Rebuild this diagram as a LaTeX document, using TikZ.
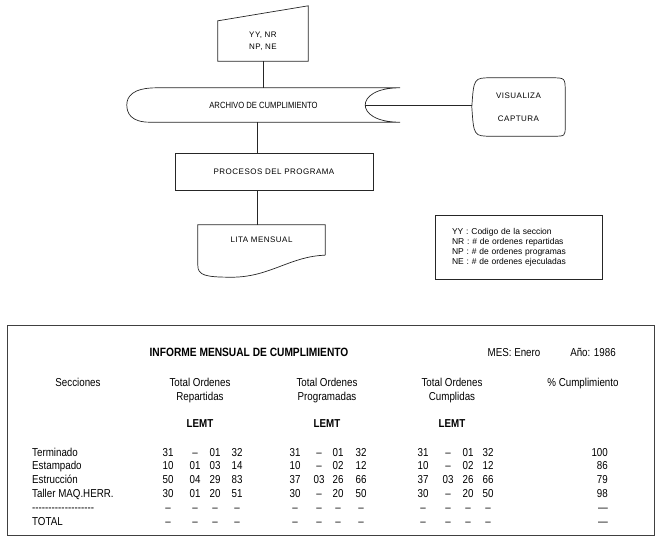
\documentclass[tikz,border=0pt]{standalone}
\usepackage{fontspec}
\setmainfont{Liberation Sans}
\newfontfamily\narrowfont{Liberation Sans}[FakeStretch=0.85, Ligatures=TeX]
\newfontfamily\flowfont{Liberation Sans}[LetterSpace=6]
\usetikzlibrary{positioning, calc}
\definecolor{lineink}{gray}{0.15}
\newcommand{\hyphenrow}{-{}-{}-{}-{}-{}-{}-{}-{}-{}-{}-{}-{}-{}-{}-{}-{}-{}-{}-}
\tikzset{
  flowline/.style = {draw=lineink, line width=0.7pt},
  flowtxt/.style  = {font=\flowfont\fontsize{8}{12}\selectfont, align=center,
                     inner sep=0pt},
  flowbox/.style  = {flowtxt, flowline},
  legtxt/.style   = {font=\fontsize{8.5}{10}\selectfont, align=left,
                     inner xsep=17pt, inner ysep=0pt},
  tbltxt/.style   = {font=\narrowfont\fontsize{11.5}{13}\selectfont,
                     inner sep=0pt, anchor=base},
  tblbold/.style  = {tbltxt, font=\narrowfont\bfseries\fontsize{11.5}{13}\selectfont},
  tblframe/.style = {draw=black!75, line width=1pt}
}
\def\colx{{168,195,215,237,295,319,338,361,423,448,468,488}}

\begin{document}
\begin{tikzpicture}[x=1pt, y=-1pt]
  \useasboundingbox (0,0) rectangle (658,541);

  % flowchart
  \node[flowtxt, minimum width=90pt, minimum height=40pt] (inp) at (263,41)
        {YY, NR\\NP, NE};
  \draw[flowline] (inp.south west) -- (inp.north west)
        -- ([yshift=15pt]inp.north east) -- (inp.south east) -- cycle;

  \node[flowtxt, font=\narrowfont\fontsize{9}{11}\selectfont,
        minimum width=273pt, minimum height=34pt] (arch) at (263.5,105)
        {ARCHIVO DE CUMPLIMIENTO};
  \coordinate (archtip) at ([xshift=-35pt]arch.east);
  \draw[flowline] (arch.north east) -- ([xshift=30pt]arch.north west)
        .. controls ([xshift=5pt]arch.north west) and ([yshift=8pt]arch.west) .. (arch.west)
        .. controls ([yshift=-8pt]arch.west) and ([xshift=4pt]arch.south west) .. ([xshift=23pt]arch.south west)
        -- (arch.south east)
        .. controls +(-25,0) and +(0,8) .. (archtip)
        .. controls +(0,-8) and +(-25,0) .. (arch.north east);

  \node[flowtxt, minimum width=93pt, minimum height=58pt] (disp) at (518.5,107)
        {VISUALIZA\\[11pt]CAPTURA};
  \draw[flowline] (disp.west)
        .. controls ([xshift=2pt]disp.north west) .. ([xshift=20pt]disp.north west)
        -- ([xshift=-14pt]disp.north east)
        .. controls (disp.north east) .. ([yshift=-14pt]disp.north east)
        -- ([yshift=10pt]disp.south east)
        .. controls (disp.south east) .. ([xshift=-12pt]disp.south east)
        -- ([xshift=20pt]disp.south west)
        .. controls ([xshift=2pt]disp.south west) .. (disp.west) -- cycle;

  \node[flowbox, draw, minimum width=198pt, minimum height=37pt] (proc) at (274,171.5)
        {PROCESOS DEL PROGRAMA};

  \node[flowtxt, minimum width=127pt, minimum height=30pt] (doc) at (261.5,240)
        {LITA MENSUAL};
  \draw[flowline] (doc.south east) -- (doc.north east) -- (doc.north west)
        -- ([yshift=-10pt]doc.south west)
        .. controls +(0,10) and +(-27,0) .. ++(34,12)
        .. controls +(38,0) and +(-35,1) .. (doc.south east);

  \draw[flowline] (inp.south) -- (inp.south |- arch.north);
  \draw[flowline] ([xshift=-6pt]arch.south) -- ([xshift=-6pt]arch.south |- proc.north);
  \draw[flowline] ([xshift=-17pt]proc.south) -- ([xshift=-17pt]proc.south |- doc.north);
  \draw[flowline] (archtip) -- (archtip -| disp.west);

  \node[legtxt, flowline, draw, text width=133pt, minimum height=64pt] (legend)
        at (518.5,247)
        {YY : Codigo de la seccion\\NR : \# de ordenes repartidas\\
         NP : \# de ordenes programas\\NE : \# de ordenes ejeculadas};

  % monthly report
  \node[tblframe, minimum width=647pt, minimum height=210pt] (report) at (330.5,430) {};
  \node[tblbold, font=\narrowfont\bfseries\fontsize{12}{14}\selectfont] (title)
        at (249,356.5) {INFORME MENSUAL DE CUMPLIMIENTO};
  \node[tbltxt] (mes) at (514,356.5) {MES: Enero};
  \node[tbltxt] (anio) at (593,356.5) {Año: 1986};

  \node[tbltxt] (hsec) at (78,386) {Secciones};
  \node[tbltxt] (hpct) at (583,386) {\% Cumplimiento};
  \foreach \cx/\name/\word in {200/rep/Repartidas, 327/prog/Programadas, 452/cump/Cumplidas} {
    \node[tbltxt] (\name-a) at (\cx,386) {Total Ordenes};
    \node[tbltxt] (\name-b) at (\cx,400) {\word};
    \node[tblbold] (\name-l) at (\cx,427) {LEMT};
  }

  \foreach \lbl/\vals/\pct [count=\r] in {
      Terminado/{31,--,01,32,31,--,01,32,31,--,01,32}/100,
      Estampado/{10,01,03,14,10,--,02,12,10,--,02,12}/86,
      Estrucción/{50,04,29,83,37,03,26,66,37,03,26,66}/79,
      {Taller MAQ.HERR.}/{30,01,20,51,30,--,20,50,30,--,20,50}/98,
      \hyphenrow/{--,--,--,--,--,--,--,--,--,--,--,--}/---,
      TOTAL/{--,--,--,--,--,--,--,--,--,--,--,--}/---} {
    \pgfmathsetmacro{\ry}{456+13.8*(\r-1)}
    \node[tbltxt, anchor=base west] (s-\r) at (32,\ry) {\lbl};
    \foreach \v [count=\c] in \vals {
      \pgfmathsetmacro{\vx}{\colx[\c-1]}
      \node[tbltxt] (v-\r-\c) at (\vx,\ry) {\v};
    }
    \node[tbltxt, anchor=base east] (p-\r) at (608,\ry) {\pct};
  }
\end{tikzpicture}
\end{document}
